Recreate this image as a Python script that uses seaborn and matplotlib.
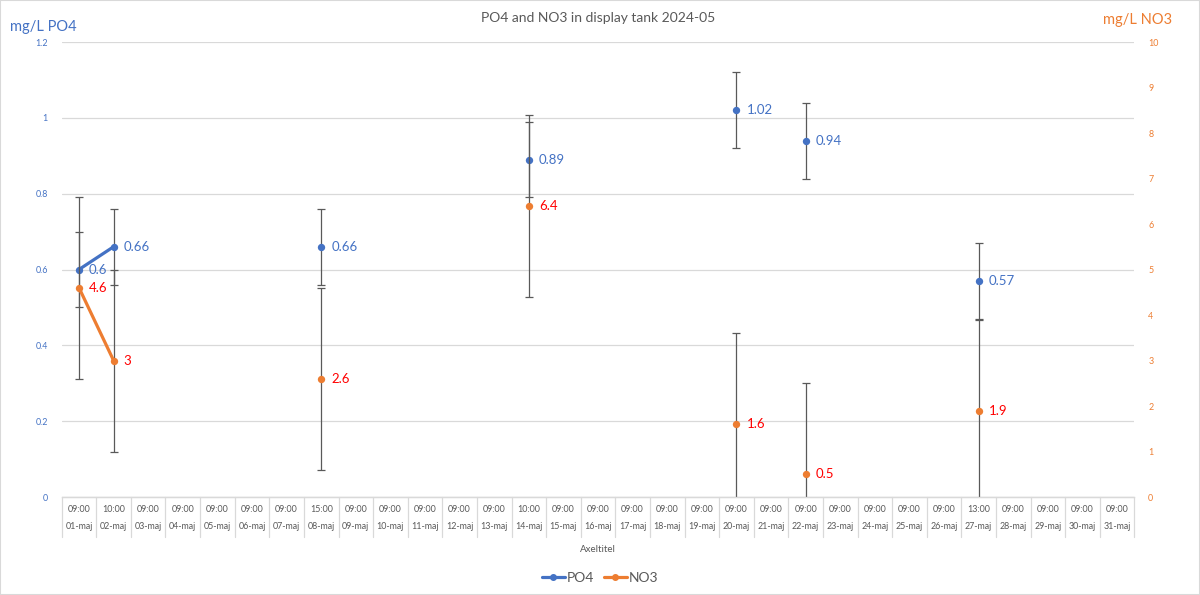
import numpy as np
import pandas as pd
import matplotlib
matplotlib.use("Agg")
import matplotlib.pyplot as plt
import matplotlib.transforms as mtransforms
from matplotlib.lines import Line2D
from matplotlib.patches import Rectangle
import seaborn as sns

# ---------------- data ----------------
dates = ["01-maj", "02-maj", "03-maj", "04-maj", "05-maj", "06-maj", "07-maj", "08-maj",
         "09-maj", "10-maj", "11-maj", "12-maj", "13-maj", "14-maj", "15-maj", "16-maj",
         "17-maj", "18-maj", "19-maj", "20-maj", "21-maj", "22-maj", "23-maj", "24-maj",
         "25-maj", "26-maj", "27-maj", "28-maj", "29-maj", "30-maj", "31-maj"]
times = ["09:00", "10:00", "09:00", "09:00", "09:00", "09:00", "09:00", "15:00",
         "09:00", "09:00", "09:00", "09:00", "09:00", "10:00", "09:00", "09:00",
         "09:00", "09:00", "09:00", "09:00", "09:00", "09:00", "09:00", "09:00",
         "09:00", "09:00", "13:00", "09:00", "09:00", "09:00", "09:00"]
nan = np.nan
po4 = [0.6, 0.66, nan, nan, nan, nan, nan, 0.66, nan, nan, nan, nan, nan, 0.89, nan, nan,
       nan, nan, nan, 1.02, nan, 0.94, nan, nan, nan, nan, 0.57, nan, nan, nan, nan]
no3 = [4.6, 3, nan, nan, nan, nan, nan, 2.6, nan, nan, nan, nan, nan, 6.4, nan, nan,
       nan, nan, nan, 1.6, nan, 0.5, nan, nan, nan, nan, 1.9, nan, nan, nan, nan]
po4_err = 0.1
no3_err = 2.0
left_ticks = [0, 0.2, 0.4, 0.6, 0.8, 1.0, 1.2]
left_labels = ["0", "0.2", "0.4", "0.6", "0.8", "1", "1.2"]
right_ticks = [0, 1, 2, 3, 4, 5, 6, 7, 8, 9, 10]
right_labels = ["0", "1", "2", "3", "4", "5", "6", "7", "8", "9", "10"]

title = "PO4 and NO3 in display tank 2024-05"
xlabel = "Axeltitel"

C_PO4 = "#4472C4"
C_NO3 = "#ED7D31"
C_LBL_NO3 = "#FF0000"
C_ERR = "#595959"
C_GRID = "#D9D9D9"
C_TXT = "#595959"

sns.set_theme(style="white")
plt.rcParams['font.family'] = ['Lato', 'DejaVu Sans']

x = np.arange(len(dates))
df = pd.DataFrame({"x": x, "po4": po4, "no3": no3})


def segments(values):
    s = pd.Series(values)
    return s.isna().cumsum()


df["seg_po4"] = segments(po4)
df["seg_no3"] = segments(no3)

fig = plt.figure(figsize=(12, 5.95), dpi=100)
ax = fig.add_axes([0.0514, 0.1647, 0.8939, 0.7647])
ax2 = ax.twinx()

# ---- PO4 on left axis ----
d1 = df.dropna(subset=["po4"])
ax.errorbar(d1["x"], d1["po4"], yerr=po4_err, fmt="none", ecolor=C_ERR,
            elinewidth=0.9, capsize=3, capthick=0.9, zorder=2)
sns.lineplot(data=d1, x="x", y="po4", units="seg_po4", estimator=None, ax=ax,
             color=C_PO4, lw=2.3, zorder=3, legend=False)
sns.scatterplot(data=d1, x="x", y="po4", ax=ax, color=C_PO4, s=28,
                edgecolor=C_PO4, linewidth=0, zorder=4, legend=False)
for xi, v in zip(d1["x"], d1["po4"]):
    ax.annotate(f"{v:g}", (xi, v), xytext=(10, 0), textcoords="offset pixels",
                va="center", ha="left", fontsize=9.5, color=C_PO4)

# ---- NO3 on right axis ----
d2 = df.dropna(subset=["no3"])
ax2.errorbar(d2["x"], d2["no3"], yerr=no3_err, fmt="none", ecolor=C_ERR,
             elinewidth=0.9, capsize=3, capthick=0.9, zorder=2)
sns.lineplot(data=d2, x="x", y="no3", units="seg_no3", estimator=None, ax=ax2,
             color=C_NO3, lw=2.3, zorder=3, legend=False)
sns.scatterplot(data=d2, x="x", y="no3", ax=ax2, color=C_NO3, s=28,
                edgecolor=C_NO3, linewidth=0, zorder=4, legend=False)
for xi, v in zip(d2["x"], d2["no3"]):
    ax2.annotate(f"{v:g}", (xi, v), xytext=(10, 0), textcoords="offset pixels",
                 va="center", ha="left", fontsize=9.5, color=C_LBL_NO3)

# ---- axes styling ----
ax.set_xlim(-0.5, len(dates) - 0.5)
ax.set_ylim(left_ticks[0], left_ticks[-1])
ax2.set_ylim(right_ticks[0], right_ticks[-1])
ax.set_yticks(left_ticks)
ax.set_yticklabels(left_labels)
ax2.set_yticks(right_ticks)
ax2.set_yticklabels(right_labels)
ax.set_xticks(x)
ax.set_xticklabels([f"{t}\n{d}" for t, d in zip(times, dates)])
ax.set_xlabel("")
ax.set_ylabel("")
ax2.set_ylabel("")
ax2.set_xlabel("")

ax.yaxis.grid(True, color=C_GRID, lw=0.9)
ax.xaxis.grid(False)
ax2.grid(False)
ax.set_axisbelow(True)

for a in (ax, ax2):
    for sp in ("left", "right", "top"):
        a.spines[sp].set_visible(False)
    a.spines["bottom"].set_color(C_GRID)
    a.spines["bottom"].set_linewidth(0.9)

ax.tick_params(axis="x", length=0, pad=6, labelsize=6.4, labelcolor=C_TXT)
ax.tick_params(axis="y", length=0, pad=10, labelsize=6.4, labelcolor=C_PO4)
ax2.tick_params(axis="y", length=0, pad=10, labelsize=6.4, labelcolor=C_NO3)
for lbl in ax.get_xticklabels():
    lbl.set_linespacing(2.1)

# category separators
trans = mtransforms.blended_transform_factory(ax.transData, ax.transAxes)
sep_depth = -40 / (0.7647 * 595)
for b in np.arange(-0.5, len(dates), 1.0):
    ax.add_line(Line2D([b, b], [0, sep_depth], transform=trans, color=C_GRID,
                       lw=0.9, clip_on=False))

# titles / labels
fig.text(598 / 1200, 1 - 18 / 595, title, ha="center", va="center", fontsize=10, color=C_TXT)
fig.text(10 / 1200, 1 - 27 / 595, "mg/L PO4", ha="left", va="center", fontsize=10.5, color=C_PO4)
fig.text(1172 / 1200, 1 - 20 / 595, "mg/L NO3", ha="right", va="center", fontsize=10.5, color=C_NO3)
fig.text(598 / 1200, 1 - 549 / 595, xlabel, ha="center", va="center", fontsize=7, color=C_TXT)

handles = [Line2D([], [], color=C_PO4, lw=2.3, marker="o", ms=4),
           Line2D([], [], color=C_NO3, lw=2.3, marker="o", ms=4)]
fig.legend(handles, ["PO4", "NO3"], loc="center", bbox_to_anchor=(600 / 1200, 1 - 578 / 595),
           ncol=2, frameon=False, fontsize=10, labelcolor=C_TXT, handlelength=1.65,
           columnspacing=0.7, handletextpad=0.15)

fig.patches.append(Rectangle((0, 0), 1, 1, transform=fig.transFigure, fill=False,
                             edgecolor=C_GRID, lw=1.5))

fig.savefig("out.png", dpi=100)
